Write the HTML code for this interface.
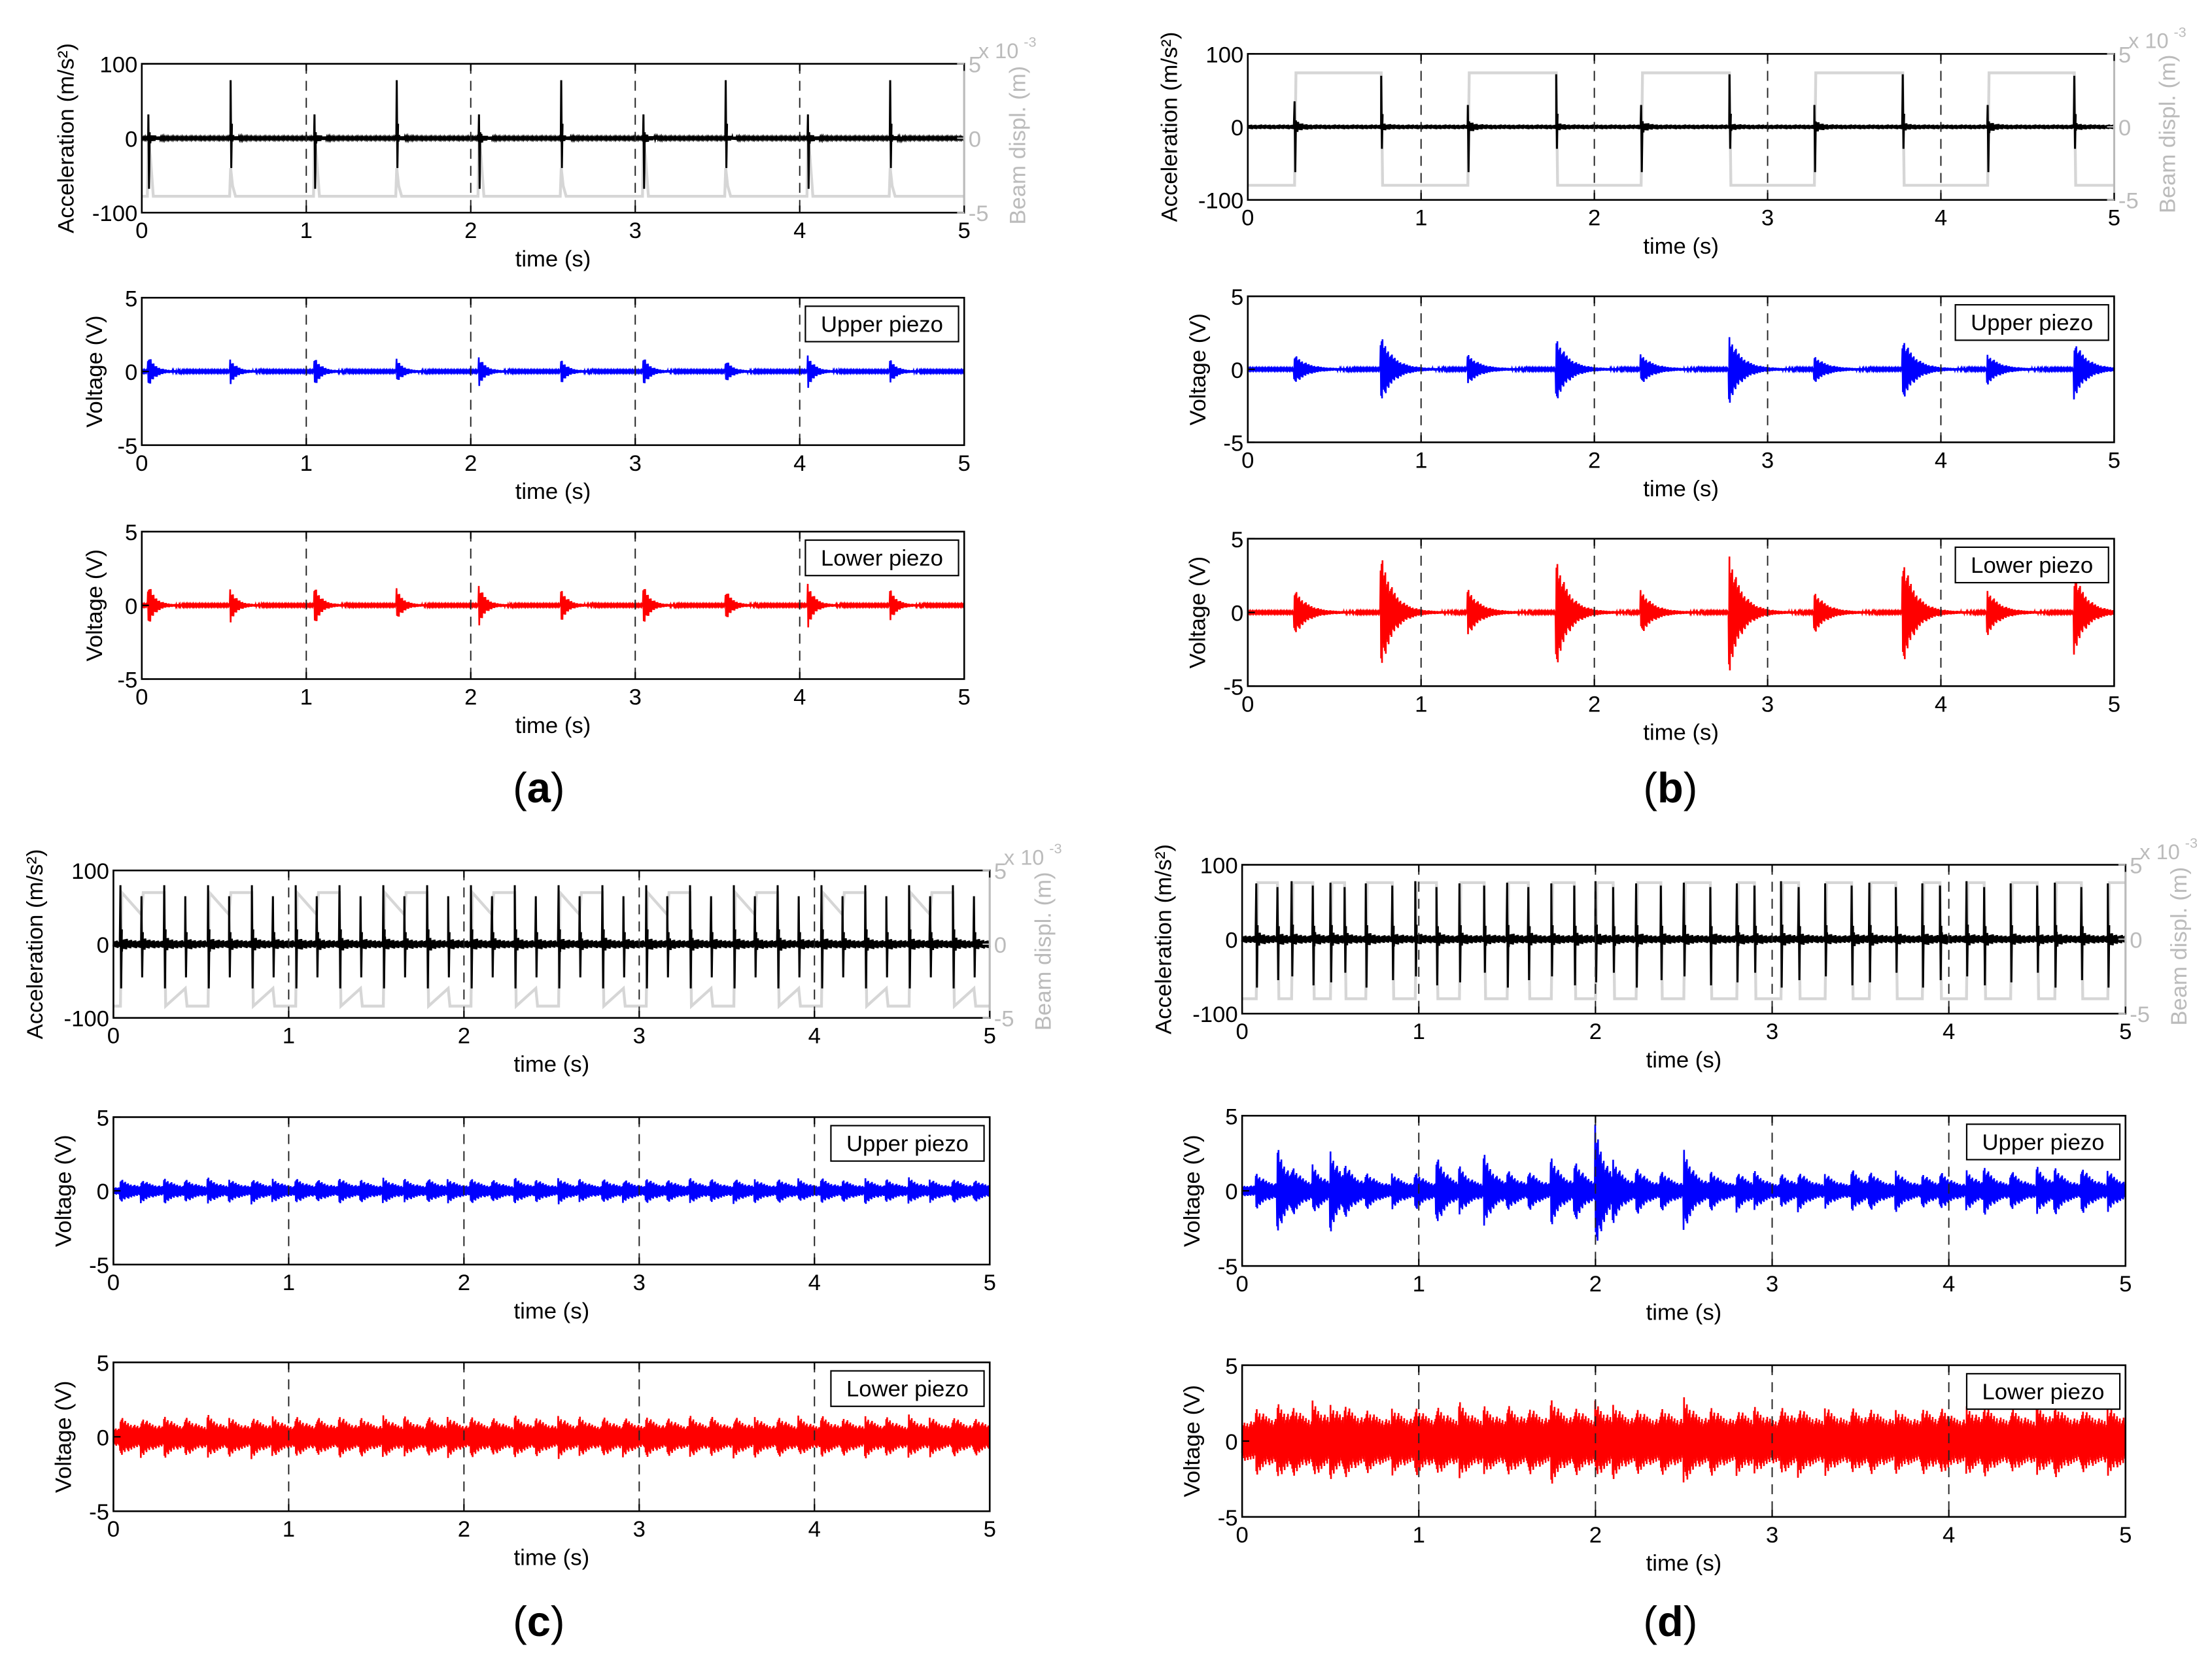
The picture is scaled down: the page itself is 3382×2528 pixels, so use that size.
<!DOCTYPE html>
<html><head><meta charset="utf-8">
<style>
html,body{margin:0;padding:0;background:#fff;}
svg{display:block;}
text{font-family:"Liberation Sans",Arial,sans-serif;}
</style></head>
<body>
<svg id="fig" xmlns="http://www.w3.org/2000/svg" width="3382" height="2528" viewBox="0 0 1560 1166" preserveAspectRatio="none">
<rect x="0" y="0" width="1560" height="1166" fill="#fff"/>
</svg>
<script>
// ---------------- data ----------------
const xTicks = [0,1,2,3,4,5];
const accTicks = [100,0,-100];
const voltTicks = [5,0,-5];
const dispTicks = [5,0,-5];

// (a)
const aEvents = [0.04,0.54,1.05,1.55,2.05,2.55,3.05,3.55,4.05,4.55];
const aPos = [32,78,32,78,32,78,32,78,32,78];
const aNeg = [-68,-40,-68,-40,-68,-40,-68,-40,-68,-40];
const aUpper = [1.1,0.8,1.0,0.8,1.0,0.8,1.0,0.8,1.1,0.8];
const aLower = [1.5,1.1,1.4,1.1,1.4,1.1,1.4,1.1,1.5,1.1];
const aDispPeak = [0,-2,0,-2,0,-2,0,-2,0,-2];
const aDispBase = [-3.9];
// (b)
const bEvents = [0.27,0.77,1.27,1.78,2.27,2.78,3.27,3.78,4.27,4.77];
const bPos = [35,70,30,72,30,72,30,72,30,70];
const bNeg = [-62,-30,-62,-30,-62,-30,-62,-30,-62,-30];
const bUpper = [1.0,2.3,1.0,2.2,1.0,2.3,0.9,2.2,1.0,2.0];
const bLower = [1.6,4.0,1.6,3.8,1.5,4.0,1.4,3.8,1.5,2.8];
const bDispLevels = [-4.0,3.7];
// (c)
const cEvents = [0.04,0.16,0.29,0.41,0.54,0.66,0.79,0.91,1.04,1.16,1.29,1.41,1.54,1.66,1.79,1.91,2.04,2.16,2.29,2.41,2.54,2.66,2.79,2.91,3.04,3.16,3.29,3.41,3.54,3.66,3.79,3.91,4.04,4.16,4.29,4.41,4.54,4.66,4.79,4.91];
const cPos = [80,65,80,65,80,65,80,65,80,65,80,65,80,65,80,65,80,65,80,65,80,65,80,65,80,65,80,65,80,65,80,65,80,65,80,65,80,65,80,65];
const cNeg = [-60,-45,-60,-45,-60,-45,-60,-45,-60,-45,-60,-45,-60,-45,-60,-45,-60,-45,-60,-45,-60,-45,-60,-45,-60,-45,-60,-45,-60,-45,-60,-45,-60,-45,-60,-45,-60,-45,-60,-45];
const cUpper = [0.6,0.5,0.6,0.5,0.6,0.5,0.6,0.5,0.6,0.5,0.6,0.5,0.6,0.5,0.6,0.5,0.6,0.5,0.6,0.5,0.6,0.5,0.6,0.5,0.6,0.5,0.6,0.5,0.6,0.5,0.6,0.5,0.6,0.5,0.6,0.5,0.6,0.5,0.6,0.5];
const cLower = [0.8,0.7,0.8,0.7,0.8,0.7,0.8,0.7,0.8,0.7,0.8,0.7,0.8,0.7,0.8,0.7,0.8,0.7,0.8,0.7,0.8,0.7,0.8,0.7,0.8,0.7,0.8,0.7,0.8,0.7,0.8,0.7,0.8,0.7,0.8,0.7,0.8,0.7,0.8,0.7];
const cDispLevels = [-4.2,3.5];
// (d)
const dEvents = [0.08,0.2,0.28,0.4,0.5,0.58,0.7,0.85,0.98,1.1,1.23,1.37,1.5,1.62,1.75,1.88,2.0,2.1,2.23,2.37,2.5,2.65,2.8,2.9,3.05,3.15,3.3,3.45,3.55,3.7,3.85,3.95,4.1,4.2,4.35,4.5,4.6,4.75,4.9];
const dPos = [75,70,78,72,76,70,75,72,78,70,75,72,76,70,75,72,78,70,75,72,76,70,75,72,78,70,75,72,76,70,75,72,78,70,75,72,76,70,75];
const dNeg = [-65,-55,-50,-62,-58,-45,-65,-55,-50,-62,-58,-45,-65,-55,-50,-62,-58,-45,-65,-55,-50,-62,-58,-45,-65,-55,-50,-62,-58,-45,-65,-55,-50,-62,-58,-45,-65,-55,-65];
const dUpper = [0.9,2.6,0.8,1.2,2.2,1.0,0.8,0.8,0.9,2.0,1.1,2.0,0.9,1.0,1.9,1.7,3.8,1.1,1.2,1.0,2.4,0.9,1.0,0.8,0.8,0.9,0.8,1.1,0.9,1.0,0.8,0.9,1.0,1.2,1.0,1.2,1.1,1.3,1.0];
const dLower = [1.0,1.2,0.9,1.2,1.0,1.0,0.8,0.9,1.0,1.0,1.2,0.9,1.1,1.0,1.5,1.0,1.2,1.0,0.9,1.0,1.6,1.0,0.9,0.8,1.0,0.9,1.0,0.9,0.9,0.8,1.0,0.9,1.0,1.0,0.9,1.0,1.0,0.9,1.0];
const dDispLevels = [-4.0,3.8];

// ---------------- drawing ----------------
const NS = "http://www.w3.org/2000/svg";
const svg = document.getElementById('fig');
function el(tag, attrs, parent){
  const e = document.createElementNS(NS, tag);
  for (const k in attrs) e.setAttribute(k, attrs[k]);
  (parent||svg).appendChild(e);
  return e;
}
function txt(x,y,s,size,fill,anchor,parent,rot){
  const t = el('text',{x:x,y:y,'font-size':size,fill:fill,'text-anchor':anchor},parent);
  if (rot) t.setAttribute('transform','rotate(-90 '+x+' '+y+')');
  t.textContent = s;
  return t;
}
function jitter(k){ return 0.6 + 0.4*((k*7919)%13)/12; }

function makeAxes(name, box, ymin, ymax, yTicks, ylabel, ylabelX){
  const g = el('g',{});
  
  
  const sx = t => box.x0 + t/5*(box.x1-box.x0);
  const sy = v => box.y0 + (ymax-v)/(ymax-ymin)*(box.y1-box.y0);
  return {g, sx, sy, box, ymin, ymax, yTicks, ylabel, ylabelX, name};
}
function finishAxes(ax, opts){
  const {g,sx,sy,box} = ax;
  for (const t of xTicks.slice(1,5)){
    const l = el('line',{x1:sx(t),x2:sx(t),y1:box.y0,y2:box.y1,stroke:'#222','stroke-width':0.9,'stroke-dasharray':'7,5'},g);
    
    
  }
  const fr = el('rect',{x:box.x0,y:box.y0,width:box.x1-box.x0,height:box.y1-box.y0,fill:'none',stroke:'#000','stroke-width':1.2},g);
  
  
  if (opts.disp){
    el('line',{x1:box.x1,x2:box.x1,y1:box.y0,y2:box.y1,stroke:'#bbb','stroke-width':1.4},g);
  }
  const xg = el('g',{},g);
  
  
  for (const t of xTicks){
    el('line',{x1:sx(t),x2:sx(t),y1:box.y1,y2:box.y1-5,stroke:'#000','stroke-width':1},xg);
    el('line',{x1:sx(t),x2:sx(t),y1:box.y0,y2:box.y0+5,stroke:'#000','stroke-width':1},xg);
    txt(sx(t), box.y1+18, String(t), 16, '#000','middle',xg);
  }
  const xt = txt((box.x0+box.x1)/2, box.y1+38, 'time (s)', 16, '#000','middle',g);
  
  
  const yg = el('g',{},g);
  
  
  for (const v of ax.yTicks){
    el('line',{x1:box.x0,x2:box.x0+5,y1:sy(v),y2:sy(v),stroke:'#000','stroke-width':1},yg);
    txt(box.x0-3, sy(v)+6, String(v), 16, '#000','end',yg);
  }
  const yt = txt(ax.ylabelX, (box.y0+box.y1)/2, ax.ylabel, 16, '#000','middle',g,true);
  
  
  if (opts.disp){
    const rg = el('g',{},g);
    
    
    const dy = v => box.y0 + (5-v)/10*(box.y1-box.y0);
    for (const v of dispTicks){
      el('line',{x1:box.x1,x2:box.x1-5,y1:dy(v),y2:dy(v),stroke:'#bbb','stroke-width':1},rg);
      txt(box.x1+3, dy(v)+6, String(v), 16, '#bbb','start',rg);
    }
    txt(box.x1+10, box.y0-4, 'x 10', 15, '#bbb','start',rg);
    txt(box.x1+42, box.y0-12, '-3', 10, '#bbb','start',rg);
    const rt = txt(box.x1+43, (box.y0+box.y1)/2+5, 'Beam displ. (m)', 16, '#bbb','middle',g,true);
    
    
  }
  if (opts.legend){
    const lg = el('g',{},g);
    
    
    const w = 108, h = 25, lx = box.x1-4-w, ly = box.y0+6;
    el('rect',{x:lx,y:ly,width:w,height:h,fill:'#fff',stroke:'#000','stroke-width':1},lg);
    txt(lx+w/2, ly+18, opts.legend, 16, '#000','middle',lg);
  }
}

function voltageSeries(ax, events, amps, tau, base, color, name){
  const {sx,sy,box} = ax;
  const n = Math.round((box.x1-box.x0)*3);
  let d = '';
  for (let k=0;k<=n;k++){
    const t = 5*k/n;
    let env = base;
    for (let i=0;i<events.length;i++){
      const dt = t-events[i];
      if (dt>=-0.004) env += amps[i]*Math.exp(-Math.max(dt,0)/tau);
    }
    env = Math.min(env, 4.9);
    const v = (k%2?1:-1)*env*jitter(k);
    d += (k?'L':'M')+sx(t).toFixed(2)+' '+sy(v).toFixed(2);
  }
  const p = el('path',{d:d,fill:'none',stroke:color,'stroke-width':1.2},ax.g);
  
  
}

function accelSeries(ax, events, pos, neg, tau, noise, name){
  const {sx,sy,box} = ax;
  const n = Math.round((box.x1-box.x0)*2);
  let d = '', ei = 0, k = 0;
  const pts = [];
  for (k=0;k<=n;k++){
    const t = 5*k/n;
    while (ei<events.length && events[ei]<=t){
      pts.push([events[ei], pos[ei]]);
      pts.push([events[ei]+0.004, neg[ei]]);
      pts.push([events[ei]+0.008, pos[ei]*0.25]);
      ei++;
    }
    let env = noise;
    for (let i=0;i<events.length;i++){
      const dt = t-events[i];
      if (dt>0.008) env += 0.12*Math.abs(neg[i])*Math.exp(-dt/tau);
    }
    pts.push([t,(k%2?1:-1)*env*jitter(k)]);
  }
  pts.forEach((p,i)=>{ d += (i?'L':'M')+sx(p[0]).toFixed(2)+' '+sy(p[1]).toFixed(2); });
  const p = el('path',{d:d,fill:'none',stroke:'#000','stroke-width':1.4},ax.g);
  
  
}

function dispPulse(ax, events, peaks, base, name){
  const {sx,box} = ax;
  const dy = v => box.y0 + (5-v)/10*(box.y1-box.y0);
  let d = 'M'+sx(0)+' '+dy(base);
  events.forEach((e,i)=>{
    d += 'L'+sx(e-0.006)+' '+dy(base)+'L'+sx(e)+' '+dy(peaks[i])+'L'+sx(e+0.012)+' '+dy(peaks[i]-1.2)+'L'+sx(e+0.03)+' '+dy(base);
  });
  d += 'L'+sx(5)+' '+dy(base);
  const p = el('path',{d:d,fill:'none',stroke:'#d6d6d6','stroke-width':2},ax.g);
  
  
}
function dispSquare(ax, events, levels, every, name){
  const {sx,box} = ax;
  const dy = v => box.y0 + (5-v)/10*(box.y1-box.y0);
  let state = 0;
  let d = 'M'+sx(0)+' '+dy(levels[state]);
  events.forEach((e,i)=>{
    if (i%every!==0) { d += 'L'+sx(e)+' '+dy(levels[state]+(state?-1.5:1.2))+'L'+sx(e+0.01)+' '+dy(levels[state]); return; }
    d += 'L'+sx(e)+' '+dy(levels[state]);
    state = 1-state;
    d += 'L'+sx(e+0.008)+' '+dy(levels[state]);
  });
  d += 'L'+sx(5)+' '+dy(levels[state]);
  const p = el('path',{d:d,fill:'none',stroke:'#d6d6d6','stroke-width':2},ax.g);
  
  
}

const panels = [
  {id:'a', x0:100,x1:680, ys:[[45,150],[210,314],[375,479]], accX:52, vX:72, lbl:[380,566], ev:aEvents,pos:aPos,neg:aNeg,up:aUpper,lo:aLower,tau:0.04,ub:0.06,lb:0.06, acNoise:1.5},
  {id:'b', x0:880,x1:1491, ys:[[38,141],[209,312],[380,484]], accX:830, vX:850, lbl:[1178,566], ev:bEvents,pos:bPos,neg:bNeg,up:bUpper,lo:bLower,tau:0.07,ub:0.06,lb:0.06, acNoise:3},
  {id:'c', x0:80,x1:698, ys:[[614,718],[788,892],[961,1066]], accX:30, vX:50, lbl:[380,1154], ev:cEvents,pos:cPos,neg:cNeg,up:cUpper,lo:cLower,tau:0.06,ub:0.25,lb:0.6, acNoise:5},
  {id:'d', x0:876,x1:1499, ys:[[610,715],[787,893],[963,1070]], accX:826, vX:846, lbl:[1178,1154], ev:dEvents,pos:dPos,neg:dNeg,up:dUpper,lo:dLower,tau:0.06,ub:0.35,lb:1.3, acNoise:5}
];

panels.forEach(P=>{
  const acc = makeAxes('panel-'+P.id+'-acceleration-chart', {x0:P.x0,x1:P.x1,y0:P.ys[0][0],y1:P.ys[0][1]}, -100,100, accTicks, 'Acceleration (m/s²)', P.accX);
  if (P.id==='a') dispPulse(acc, aEvents, aDispPeak, aDispBase[0], 'beam-displacement-line');
  if (P.id==='b') dispSquare(acc, bEvents, bDispLevels, 1, 'beam-displacement-line');
  if (P.id==='c') dispSquare(acc, cEvents, cDispLevels, 2, 'beam-displacement-line');
  if (P.id==='d') dispSquare(acc, dEvents, dDispLevels, 1, 'beam-displacement-line');
  accelSeries(acc, P.ev, P.pos, P.neg, 0.03, P.acNoise, 'acceleration-line');
  finishAxes(acc, {disp:true});

  const up = makeAxes('panel-'+P.id+'-upper-piezo-chart', {x0:P.x0,x1:P.x1,y0:P.ys[1][0],y1:P.ys[1][1]}, -5,5, voltTicks, 'Voltage (V)', P.vX);
  voltageSeries(up, P.ev, P.up, P.tau, P.ub, '#0000ff', 'upper-piezo-voltage-line');
  finishAxes(up, {legend:'Upper piezo'});

  const lo = makeAxes('panel-'+P.id+'-lower-piezo-chart', {x0:P.x0,x1:P.x1,y0:P.ys[2][0],y1:P.ys[2][1]}, -5,5, voltTicks, 'Voltage (V)', P.vX);
  voltageSeries(lo, P.ev, P.lo, P.tau, P.lb, '#ff0000', 'lower-piezo-voltage-line');
  finishAxes(lo, {legend:'Lower piezo'});

  const L = el('text',{x:P.lbl[0],y:P.lbl[1],'font-size':30,'text-anchor':'middle',fill:'#000','font-family':'"Liberation Serif",serif'});
  
  
  L.innerHTML = '(<tspan font-weight="bold">'+P.id+'</tspan>)';
});
</script>
</body></html>
